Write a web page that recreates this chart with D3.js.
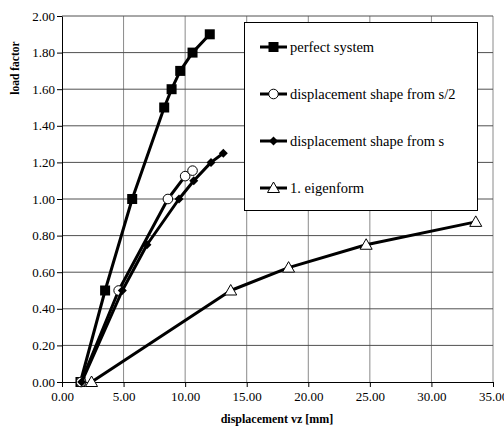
<!DOCTYPE html>
<html>
<head>
<meta charset="utf-8">
<script src="https://cdn.jsdelivr.net/npm/d3@7"></script>
<style>
  body { margin: 0; background: #fff; }
  svg text { font-family: "Liberation Serif", "DejaVu Serif", "Times New Roman", serif; }
</style>
</head>
<body>
<div id="chart"></div>
<script>
let xTicks = [0, 5, 10, 15, 20, 25, 30, 35];
let yTicks = [0, 0.2, 0.4, 0.6, 0.8, 1.0, 1.2, 1.4, 1.6, 1.8, 2.0];

let seriesNames = ["perfect system", "displacement shape from s/2", "displacement shape from s", "1. eigenform"];

let perfectX = [1.5, 3.5, 5.7, 8.3, 8.9, 9.6, 10.6, 12.0];
let perfectY = [0, 0.5, 1.0, 1.5, 1.6, 1.7, 1.8, 1.9];

let halfX = [1.55, 4.6, 8.6, 10.0, 10.6];
let halfY = [0, 0.5, 1.0, 1.125, 1.155];

let fullX = [1.6, 4.9, 6.9, 9.5, 10.7, 12.1, 13.1];
let fullY = [0, 0.5, 0.75, 1.0, 1.1, 1.2, 1.25];

let eigenX = [2.4, 13.7, 18.4, 24.7, 33.6];
let eigenY = [0, 0.5, 0.625, 0.75, 0.875];

let width = 504, height = 426;
let margin = {left: 62, right: 11, top: 16, bottom: 44};
let serif = '"Liberation Serif", "DejaVu Serif", "Times New Roman", serif';

let svg = d3.select("#chart").append("svg")
    .attr("width", width)
    .attr("height", height);

let x = d3.scaleLinear().domain([0, 35]).range([margin.left, width - margin.right]);
let y = d3.scaleLinear().domain([0, 2]).range([height - margin.bottom, margin.top]);

// grid
svg.append("g").selectAll("line")
    .data(xTicks.slice(1))
    .enter().append("line")
    .attr("x1", d => x(d)).attr("x2", d => x(d))
    .attr("y1", y(0)).attr("y2", y(2))
    .attr("stroke", "#8a8a8a").attr("stroke-width", 1);

svg.append("g").selectAll("line")
    .data(yTicks.slice(1))
    .enter().append("line")
    .attr("x1", x(0)).attr("x2", x(35))
    .attr("y1", d => y(d)).attr("y2", d => y(d))
    .attr("stroke", "#505050").attr("stroke-width", 1);

// axes
let xAxis = svg.append("g")
    .attr("transform", "translate(0," + y(0) + ")")
    .call(d3.axisBottom(x).tickValues(xTicks).tickFormat(d3.format(".2f")).tickSize(5).tickSizeOuter(0));
let yAxis = svg.append("g")
    .attr("transform", "translate(" + x(0) + ",0)")
    .call(d3.axisLeft(y).tickValues(yTicks).tickFormat(d3.format(".2f")).tickSize(5).tickSizeOuter(0));

[xAxis, yAxis].forEach(function(a) {
    a.attr("font-family", serif);
    a.select(".domain").attr("stroke", "#000");
    a.selectAll(".tick line").attr("stroke", "#000");
    a.selectAll(".tick text")
        .attr("fill", "#000")
        .style("font-family", serif)
        .style("font-size", "13px");
});
xAxis.selectAll(".tick text").attr("dy", "0.85em");
yAxis.selectAll(".tick text").attr("x", -7);

svg.append("text")
    .attr("x", 277).attr("y", 423)
    .attr("text-anchor", "middle")
    .style("font-family", serif)
    .style("font-weight", "bold")
    .style("font-size", "12px")
    .text("displacement vz [mm]");

svg.append("text")
    .attr("transform", "translate(19,68) rotate(-90)")
    .attr("text-anchor", "middle")
    .style("font-family", serif)
    .style("font-weight", "bold")
    .style("font-size", "11.5px")
    .text("load factor");

// series
let line = d3.line()
    .x(d => x(d[0]))
    .y(d => y(d[1]));

let series = [
    {name: seriesNames[0], xs: perfectX, ys: perfectY, marker: "square"},
    {name: seriesNames[1], xs: halfX, ys: halfY, marker: "circle"},
    {name: seriesNames[2], xs: fullX, ys: fullY, marker: "diamond"},
    {name: seriesNames[3], xs: eigenX, ys: eigenY, marker: "triangle"}
];

function drawMarker(g, type, cx, cy) {
    if (type == "square") {
        g.append("rect")
            .attr("x", cx - 5).attr("y", cy - 5)
            .attr("width", 10).attr("height", 10)
            .attr("fill", "#000");
    } else if (type == "circle") {
        g.append("circle")
            .attr("cx", cx).attr("cy", cy).attr("r", 4.8)
            .attr("fill", "#fff").attr("stroke", "#000").attr("stroke-width", 1);
    } else if (type == "diamond") {
        g.append("path")
            .attr("d", "M" + cx + "," + (cy - 4.5) + "L" + (cx + 4.5) + "," + cy + "L" + cx + "," + (cy + 4.5) + "L" + (cx - 4.5) + "," + cy + "Z")
            .attr("fill", "#000");
    } else {
        g.append("path")
            .attr("d", "M" + cx + "," + (cy - 6) + "L" + (cx + 6) + "," + (cy + 4.5) + "L" + (cx - 6) + "," + (cy + 4.5) + "Z")
            .attr("fill", "#fff").attr("stroke", "#000").attr("stroke-width", 1);
    }
}

series.forEach(function(s) {
    let pts = s.xs.map((v, i) => [v, s.ys[i]]);
    svg.append("path")
        .datum(pts)
        .attr("d", line)
        .attr("fill", "none")
        .attr("stroke", "#000")
        .attr("stroke-width", 3)
        .attr("stroke-linejoin", "round");
    let mg = svg.append("g");
    pts.forEach(function(p) {
        drawMarker(mg, s.marker, x(p[0]), y(p[1]));
    });
});

// legend
let legend = svg.append("g");
legend.append("rect")
    .attr("x", 244.5).attr("y", 22.5)
    .attr("width", 233).attr("height", 188)
    .attr("fill", "#fff").attr("stroke", "#000").attr("stroke-width", 1);

series.forEach(function(s, i) {
    let ly = 47 + i * 47;
    legend.append("line")
        .attr("x1", 260).attr("x2", 287)
        .attr("y1", ly).attr("y2", ly)
        .attr("stroke", "#000").attr("stroke-width", 3);
    drawMarker(legend, s.marker, 273.5, ly);
    legend.append("text")
        .attr("x", 290).attr("y", ly)
        .attr("dy", "0.35em")
        .style("font-family", serif)
        .style("font-size", "14.5px")
        .text(s.name);
});
</script>
</body>
</html>
